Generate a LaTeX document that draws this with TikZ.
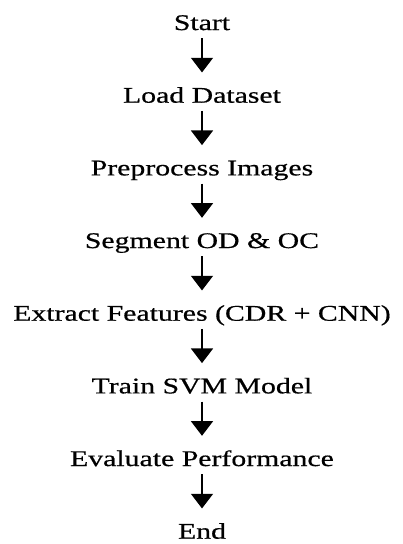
\documentclass[tikz,border=0pt]{standalone}
\usepackage{fontspec}
\setmainfont{Liberation Serif}
\newfontfamily\stagefont[FakeStretch=1.33,FakeBold=0.6]{Liberation Serif}
\usetikzlibrary{positioning,arrows.meta}

\begin{document}
\begin{tikzpicture}[
    x=0.75pt, y=-0.75pt,
    node distance=54.5pt,
    stage/.style={inner sep=0pt, text height=12pt, text depth=4pt, align=center, font=\stagefont\fontsize{16.8}{19}\selectfont},
    arrow/.style={-{Triangle[width=16.5pt,length=11pt,sep=3pt]}, line width=1.2pt, shorten <=2pt, shorten >=7.5pt}
]
    \useasboundingbox (0,0) rectangle (403,544);

    \node[stage] (start) at (202,24.7) {Start};
    \node[stage, below of=start] (load) {Load Dataset};
    \node[stage, below of=load] (prep) {Preprocess Images};
    \node[stage, below of=prep] (seg) {Segment OD \& OC};
    \node[stage, below of=seg] (feat) {Extract Features (CDR + CNN)};
    \node[stage, below of=feat] (svm) {Train SVM Model};
    \node[stage, below of=svm] (eval) {Evaluate Performance};
    \node[stage, below of=eval] (end) {End};

    \draw[arrow] (start) -- (load);
    \draw[arrow] (load) -- (prep);
    \draw[arrow] (prep) -- (seg);
    \draw[arrow] (seg) -- (feat);
    \draw[arrow] (feat) -- (svm);
    \draw[arrow] (svm) -- (eval);
    \draw[arrow] (eval) -- (end);
\end{tikzpicture}
\end{document}
